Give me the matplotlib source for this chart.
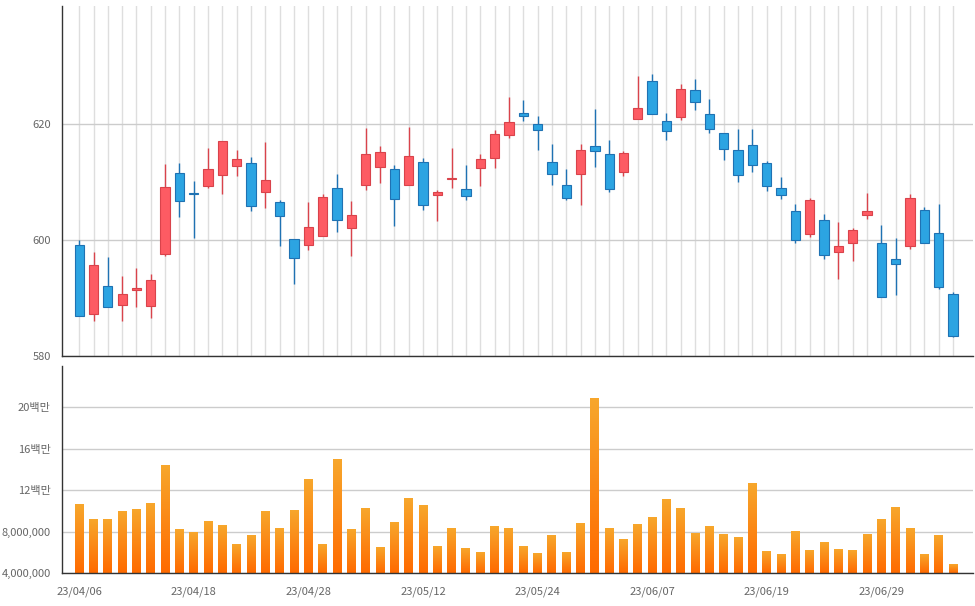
import numpy as np
import pandas as pd
import matplotlib
matplotlib.use('Agg')
from matplotlib import pyplot as plt
from matplotlib.colors import LinearSegmentedColormap

plt.rcParams['font.family'] = ['Noto Sans CJK KR', 'DejaVu Sans']

# trading days (KRX closed on these weekdays)
holidays = ['2023-05-01', '2023-05-05', '2023-05-29', '2023-06-06']
dates = pd.bdate_range('2023-04-06', '2023-07-06')
dates = dates[~dates.isin(pd.to_datetime(holidays))]

open_ = [599.1, 587.2, 592.1, 588.8, 591.4, 588.6, 597.5, 611.6, 608.0, 609.3,
         611.2, 612.8, 613.3, 608.2, 606.6, 600.2, 599.1, 600.7, 609.0, 602.0,
         609.5, 612.5, 612.2, 609.5, 613.4, 607.8, 610.5, 608.8, 612.4, 614.1,
         618.1, 621.9, 620.0, 613.4, 609.5, 611.4, 616.2, 614.8, 611.7, 620.9,
         627.3, 620.5, 621.1, 625.9, 621.7, 618.4, 615.5, 616.4, 613.3, 609.0,
         605.0, 601.0, 603.4, 597.9, 599.5, 604.3, 599.5, 596.7, 599.0, 605.2,
         601.2, 590.7]
high = [599.9, 598.0, 597.0, 593.8, 595.1, 594.1, 613.1, 613.3, 610.2, 615.9,
        617.1, 615.5, 614.2, 616.9, 606.9, 600.2, 606.6, 607.9, 611.3, 606.7,
        619.2, 616.1, 612.9, 619.5, 614.1, 608.6, 615.9, 612.9, 614.8, 619.0,
        624.7, 624.1, 621.4, 616.6, 612.2, 616.6, 622.6, 617.2, 615.3, 628.3,
        628.6, 621.9, 626.9, 627.8, 624.3, 618.4, 619.1, 619.1, 613.6, 610.9,
        606.2, 607.2, 604.5, 603.1, 602.1, 608.1, 602.6, 600.3, 607.9, 605.7,
        606.2, 591.0]
low = [586.9, 586.1, 588.4, 586.1, 588.5, 586.6, 597.3, 604.0, 600.3, 608.9,
       607.9, 611.0, 605.0, 605.5, 598.9, 592.4, 598.2, 600.7, 601.3, 597.2,
       608.6, 609.8, 602.4, 609.5, 605.2, 603.3, 609.0, 606.9, 609.3, 612.4,
       617.5, 620.5, 615.5, 609.5, 606.9, 606.0, 612.6, 608.3, 611.0, 620.9,
       621.7, 617.2, 620.7, 622.4, 618.4, 613.8, 609.9, 611.7, 608.4, 607.1,
       599.5, 600.5, 596.7, 593.3, 596.4, 603.6, 590.2, 590.5, 598.4, 599.5,
       591.6, 583.3]
close = [586.9, 595.7, 588.4, 590.7, 591.6, 593.1, 609.1, 606.7, 607.9, 612.2,
         617.1, 614.0, 605.9, 610.3, 604.1, 596.9, 602.2, 607.4, 603.4, 604.3,
         614.8, 615.2, 607.1, 614.5, 606.0, 608.3, 610.7, 607.6, 614.0, 618.3,
         620.3, 621.4, 619.0, 611.4, 607.2, 615.5, 615.3, 608.8, 615.0, 622.8,
         621.7, 618.8, 626.0, 623.8, 619.1, 615.7, 611.2, 612.9, 609.3, 607.8,
         600.0, 606.9, 597.4, 599.0, 601.7, 605.0, 590.2, 595.9, 607.2, 599.5,
         591.9, 583.4]
volume = [10590000, 9210000, 9210000, 9920000, 10110000, 10690000, 14350000, 8180000,
          7950000, 8950000, 8570000, 6730000, 7600000, 9920000, 8280000, 10010000,
          13000000, 6730000, 14930000, 8180000, 10210000, 6440000, 8860000, 11170000,
          10500000, 6540000, 8280000, 6350000, 5960000, 8470000, 8280000, 6540000,
          5860000, 7600000, 5960000, 8760000, 20820000, 8280000, 7220000, 8660000,
          9340000, 11070000, 10210000, 7790000, 8470000, 7700000, 7410000, 12620000,
          6060000, 5770000, 7990000, 6150000, 6930000, 6250000, 6150000, 7700000,
          9140000, 10300000, 8280000, 5770000, 7600000, 4800000]

price_ticks = [580, 600, 620]
vol_ticks = [4e6, 8e6, 12e6, 16e6, 20e6]
vol_tick_labels = ['4,000,000', '8,000,000', '12백만', '16백만', '20백만']

UP_FILL, UP_EDGE = '#fd5b63', '#d9434b'
DOWN_FILL, DOWN_EDGE = '#2ca4e2', '#1f72b3'
TEXT = '#666666'

x = np.arange(len(dates))
o = np.array(open_)
c = np.array(close)
up = c >= o

fig = plt.figure(figsize=(9.75, 6.06), dpi=100)
ax1 = fig.add_axes([62 / 975, 250 / 606, 911 / 975, 350 / 606])
ax2 = fig.add_axes([62 / 975, 33 / 606, 911 / 975, 207 / 606])

# candles
fills = np.where(up, UP_FILL, DOWN_FILL)
edges = np.where(up, UP_EDGE, DOWN_EDGE)
ax1.vlines(x, low, high, colors=edges, linewidth=1, zorder=2)
body_bottom = np.minimum(o, c)
body_height = np.maximum(np.abs(c - o), 0.25)
ax1.bar(x, body_height, bottom=body_bottom, width=0.65, color=fills,
        edgecolor=edges, linewidth=0.8, zorder=3)

ax1.set_xlim(-1.2, 62.4)
ax1.set_ylim(580, 640.3)
ax1.set_xticks(x)
ax1.set_xticklabels([])
ax1.set_yticks(price_ticks)
ax1.grid(axis='x', color='#dedede', linewidth=1, zorder=0)
ax1.grid(axis='y', color='#cccccc', linewidth=1, zorder=0)
ax1.set_axisbelow(True)

# volume bars with vertical gradient
cmap = LinearSegmentedColormap.from_list('vol', ['#ff6a00', '#f7a72c'])
grad = np.linspace(0, 1, 256).reshape(-1, 1)
w = 0.62
for xi, v in zip(x, volume):
    ax2.imshow(grad, extent=(xi - w / 2, xi + w / 2, 4e6, v), origin='lower',
               aspect='auto', cmap=cmap, zorder=2, interpolation='bilinear')

ax2.set_xlim(-1.2, 62.4)
ax2.set_ylim(4e6, 24e6)
ax2.set_yticks(vol_ticks)
ax2.set_yticklabels(vol_tick_labels)
tick_idx = x[::8]
ax2.set_xticks(tick_idx)
ax2.set_xticklabels([dates[i].strftime('%y/%m/%d') for i in tick_idx])
ax2.grid(axis='y', color='#cccccc', linewidth=1, zorder=0)
ax2.set_axisbelow(True)

for ax in (ax1, ax2):
    for side in ('top', 'right'):
        ax.spines[side].set_visible(False)
    for side in ('left', 'bottom'):
        ax.spines[side].set_color('#333333')
        ax.spines[side].set_linewidth(1)
    ax.tick_params(axis='y', length=0, pad=8, labelsize=8, labelcolor=TEXT)
    ax.tick_params(axis='x', length=0, pad=10, labelsize=8, labelcolor=TEXT)

fig.savefig('out.png', dpi=100)
